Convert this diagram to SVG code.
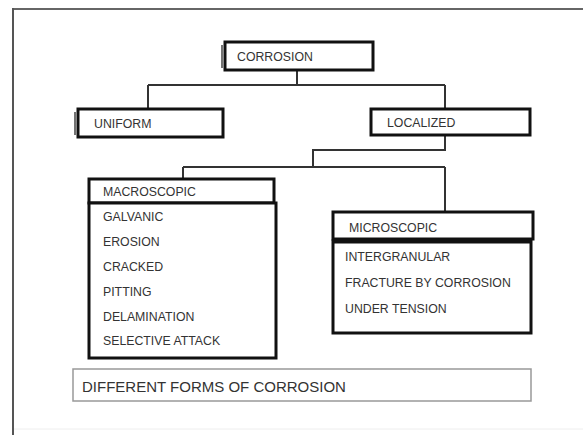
<svg xmlns="http://www.w3.org/2000/svg" width="583" height="435" viewBox="0 0 583 435">
<style>
.box{fill:#fff;stroke:#111;stroke-width:3}
.lbl{font-family:"Liberation Sans",Arial,sans-serif;font-size:12.3px;fill:#333}
.cap{font-family:"Liberation Sans",Arial,sans-serif;font-size:15px;fill:#333}
.con{fill:none;stroke:#333;stroke-width:2}
.dbl{stroke:#444;stroke-width:1.5}
</style>
<rect x="0" y="0" width="583" height="435" fill="#fff"/>
<g id="frame">
<line x1="13" y1="9" x2="583" y2="9" stroke="#666" stroke-width="2"/>
<line x1="13" y1="8" x2="13" y2="435" stroke="#555" stroke-width="2"/>
<line x1="14" y1="429" x2="583" y2="429" stroke="#eee" stroke-width="1"/>
</g>
<g id="connectors">
<path class="con" d="M297 70V85M148 85H445M148 85V109M445 85V109"/>
<path class="con" d="M445 135V150H313V167M183 167H445M183 167V179M445 167V212"/>
</g>
<g id="corrosion">
<line class="dbl" x1="222" y1="45" x2="222" y2="68"/>
<rect class="box" x="225" y="42" width="148" height="28"/>
<text class="lbl" x="237" y="61">CORROSION</text>
</g>
<g id="uniform">
<line class="dbl" x1="75" y1="112" x2="75" y2="135"/>
<rect class="box" x="78" y="109" width="145" height="28"/>
<text class="lbl" x="94" y="128">UNIFORM</text>
</g>
<g id="localized">
<rect class="box" x="371" y="109" width="159" height="26"/>
<text class="lbl" x="387" y="127">LOCALIZED</text>
</g>
<g id="macroscopic">
<rect class="box" x="89" y="179" width="185" height="24"/>
<text class="lbl" x="103" y="196">MACROSCOPIC</text>
</g>
<g id="macro-list">
<rect class="box" x="89" y="203" width="187" height="155"/>
<text class="lbl" x="103" y="221">GALVANIC</text>
<text class="lbl" x="103" y="246">EROSION</text>
<text class="lbl" x="103" y="271">CRACKED</text>
<text class="lbl" x="103" y="296">PITTING</text>
<text class="lbl" x="103" y="321">DELAMINATION</text>
<text class="lbl" x="103" y="345">SELECTIVE ATTACK</text>
</g>
<g id="microscopic">
<rect class="box" x="333" y="212" width="200" height="27"/>
<text class="lbl" x="349" y="232">MICROSCOPIC</text>
</g>
<g id="micro-list">
<rect class="box" x="333" y="241" width="198" height="92"/>
<line x1="333" y1="241" x2="531" y2="241" stroke="#111" stroke-width="5"/>
<text class="lbl" x="345" y="261">INTERGRANULAR</text>
<text class="lbl" x="345" y="287">FRACTURE BY CORROSION</text>
<text class="lbl" x="345" y="313">UNDER TENSION</text>
</g>
<g id="caption">
<rect x="73" y="369" width="458" height="32" fill="#fff" stroke="#999" stroke-width="1.5"/>
<text class="cap" x="82" y="392">DIFFERENT FORMS OF CORROSION</text>
</g>
</svg>
